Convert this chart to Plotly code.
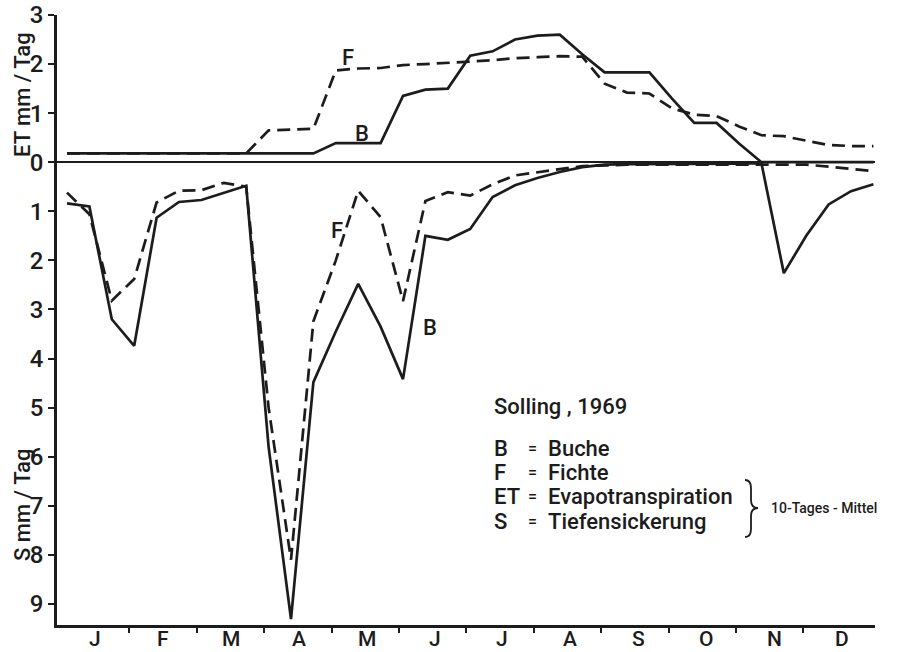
import plotly.graph_objects as go

# ---------------- data ----------------
MONATE = ["J", "F", "M", "A", "M", "J", "J", "A", "S", "O", "N", "D"]
DEKADE = list(range(37))  # 10-day steps through 1969

ET_BUCHE = [0.18, 0.18, 0.18, 0.18, 0.18, 0.18, 0.18, 0.18, 0.18, 0.18, 0.18, 0.18,
            0.39, 0.39, 0.39, 1.35, 1.48, 1.50, 2.17, 2.26, 2.50, 2.58, 2.60, 2.20,
            1.83, 1.83, 1.83, 1.30, 0.80, 0.80, 0.38, 0.0, 0.0, 0.0, 0.0, 0.0, 0.0]
ET_FICHTE = [0.18, 0.18, 0.18, 0.18, 0.18, 0.18, 0.18, 0.18, 0.18, 0.65, 0.67, 0.68,
             1.87, 1.91, 1.92, 1.98, 2.00, 2.02, 2.05, 2.08, 2.12, 2.14, 2.16, 2.15,
             1.60, 1.42, 1.40, 1.10, 0.97, 0.94, 0.73, 0.55, 0.53, 0.44, 0.35, 0.33, 0.33]
S_BUCHE = [0.84, 0.90, 3.20, 3.74, 1.13, 0.81, 0.77, 0.62, 0.48, 5.80, 9.31, 4.48,
           3.45, 2.48, 3.35, 4.42, 1.50, 1.58, 1.36, 0.71, 0.47, 0.32, 0.20, 0.10,
           0.05, 0.04, 0.04, 0.04, 0.04, 0.04, 0.03, 0.02, 2.26, 1.50, 0.86, 0.59, 0.45]
S_FICHTE = [0.62, 1.06, 2.82, 2.38, 0.82, 0.58, 0.57, 0.42, 0.50, 5.00, 8.10, 3.24,
            2.00, 0.58, 1.12, 2.83, 0.79, 0.61, 0.68, 0.45, 0.27, 0.20, 0.14, 0.08,
            0.06, 0.05, 0.05, 0.05, 0.05, 0.05, 0.05, 0.05, 0.04, 0.05, 0.09, 0.13, 0.18]
Y_TICKS = [3, 2, 1, 0, -1, -2, -3, -4, -5, -6, -7, -8, -9]

# ---------------- geometry ----------------
W, H = 902, 652
ML, MR, MT, MB = 57, 27, 15, 27
X0, X1 = -0.446, 36.07
Y0, Y1 = -9.43, 3.0
INK = "#1c1c1c"
FONT = "Roboto, DejaVu Sans, sans-serif"


def px2x(px):
    return X0 + (px - ML) / (W - ML - MR) * (X1 - X0)


def py2y(py):
    return Y1 - (py - MT) / (H - MT - MB) * (Y1 - Y0)


bounds = [px2x(62 + 67.4 * j) for j in range(1, 12)]
centers = [px2x(95 + 67.9 * j) for j in range(12)]

fig = go.Figure()
line_solid = dict(color=INK, width=2.7)
line_dash = dict(color=INK, width=2.7, dash="13px,7px")

fig.add_trace(go.Scatter(x=DEKADE, y=ET_BUCHE, mode="lines", line=line_solid, name="ET Buche"))
fig.add_trace(go.Scatter(x=DEKADE, y=[-v for v in S_BUCHE], mode="lines", line=line_solid, name="S Buche"))
fig.add_trace(go.Scatter(x=DEKADE, y=ET_FICHTE, mode="lines", line=line_dash, name="ET Fichte"))
fig.add_trace(go.Scatter(x=DEKADE, y=[-v for v in S_FICHTE], mode="lines", line=line_dash, name="S Fichte"))

ann = []


def txt(px, py, s, size=22, xanchor="center", weight=500):
    ann.append(dict(x=px2x(px), y=py2y(py), xref="x", yref="y", text=s, showarrow=False,
                    xanchor=xanchor, yanchor="middle",
                    font=dict(size=size, color=INK, family=FONT, weight=weight)))


# curve labels
txt(348, 57, "F")
txt(362, 133, "B")
txt(337, 230, "F")
txt(430, 327, "B")

# legend block
txt(492, 406, "Solling , 1969", xanchor="left")
rows = [(448, "B", "Buche"), (472, "F", "Fichte"), (496, "ET", "Evapotranspiration"),
        (521, "S", "Tiefensickerung")]
for py, k, v in rows:
    txt(492, py, k, xanchor="left")
    txt(532, py, "=", size=16)
    txt(546, py, v, xanchor="left")
txt(769, 508, "10-Tages - Mittel", size=14, xanchor="left")

# month labels
for c, m in zip(centers, MONATE):
    ann.append(dict(x=c, y=0, xref="x", yref="paper", text=m, showarrow=False,
                    yanchor="middle", yshift=-14,
                    font=dict(size=21, color=INK, family=FONT, weight=500)))

# axis titles
for py, t in [(95, "ET mm / Tag"), (505, "S mm / Tag")]:
    ann.append(dict(x=(22 - ML) / (W - ML - MR), y=(H - MB - py) / (H - MT - MB),
                    xref="paper", yref="paper", xanchor="center", yanchor="middle",
                    text=t, textangle=-90, showarrow=False,
                    font=dict(size=22, color=INK, family=FONT, weight=500)))


# brace
def P(px, py):
    return f"{px2x(px)},{py2y(py)}"


brace = (f"M {P(745,480)} Q {P(751,480)} {P(751,488)} L {P(751,500)} "
         f"Q {P(751,508)} {P(758,508)} Q {P(751,508)} {P(751,516)} "
         f"L {P(751,529)} Q {P(751,537)} {P(745,537)}")
shapes = [dict(type="path", path=brace, xref="x", yref="y", line=dict(color=INK, width=1.8))]

fig.update_layout(
    width=W, height=H, margin=dict(l=ML, r=MR, t=MT, b=MB, autoexpand=False),
    paper_bgcolor="white", plot_bgcolor="white", showlegend=False,
    annotations=ann, shapes=shapes,
    font=dict(family=FONT, color=INK),
)
fig.update_xaxes(range=[X0, X1], showgrid=False, zeroline=False, showline=True,
                 automargin=False,
                 linecolor=INK, linewidth=2.5, tickmode="array", tickvals=bounds,
                 ticktext=[""] * len(bounds), ticks="outside", ticklen=5, tickwidth=2,
                 tickcolor=INK)
fig.update_yaxes(range=[Y0, Y1], showgrid=False, zeroline=True, zerolinecolor=INK,
                 automargin=False,
                 zerolinewidth=2.2, showline=True, linecolor=INK, linewidth=2.5,
                 tickmode="array", tickvals=Y_TICKS, ticktext=[str(abs(v)) for v in Y_TICKS],
                 ticks="outside", ticklen=6, tickwidth=2, tickcolor=INK,
                 tickfont=dict(size=24, color=INK, family=FONT, weight=500))

fig.write_html("out.html", config={"displayModeBar": False},
               post_script="document.body.style.margin='0';")
